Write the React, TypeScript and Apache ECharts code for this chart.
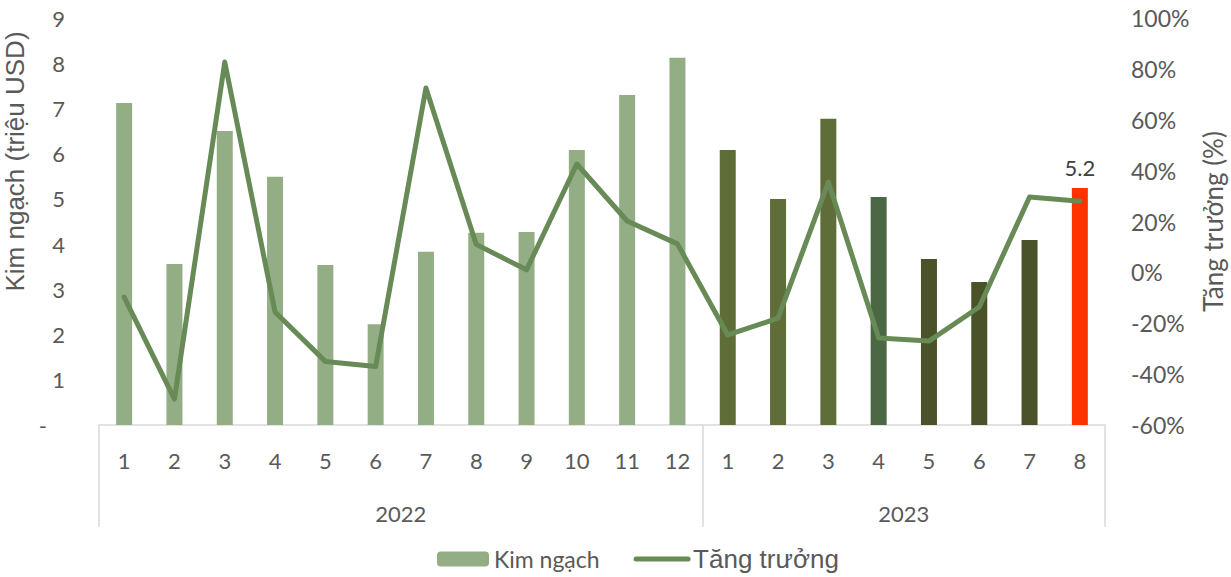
import React, { useEffect, useRef } from "react";
import * as echarts from "echarts";

const months = ["1","2","3","4","5","6","7","8","9","10","11","12","1","2","3","4","5","6","7","8"];
const years = ["2022","2022","2022","2022","2022","2022","2022","2022","2022","2022","2022","2022","2023","2023","2023","2023","2023","2023","2023","2023"];
const exportValues = [7.12, 3.56, 6.5, 5.49, 3.54, 2.23, 3.83, 4.25, 4.27, 6.08, 7.3, 8.12, 6.08, 5.0, 6.77, 5.04, 3.67, 3.16, 4.09, 5.24];
const growthValues = [-9.7, -49.8, 82.7, -15.6, -35, -37, 72.5, 11, 1, 42.6, 20.2, 11.2, -24.6, -18, 35.5, -25.8, -27, -13.6, 29.6, 28];
const barColors = [
  "#93AE84","#93AE84","#93AE84","#93AE84","#93AE84","#93AE84","#93AE84","#93AE84","#93AE84","#93AE84","#93AE84","#93AE84",
  "#5F6E38","#5F6E38","#5F6E38","#4B6744","#4A5229","#4A5229","#4A5229","#FF3300",
];
const leftTicks = { min: 0, max: 9, interval: 1 };
const rightTicks = { min: -60, max: 100, interval: 20 };

const tickFont = "Lato, 'Open Sans', sans-serif";
const titleFont = "'Liberation Sans', Arial, sans-serif";
const grey = "#595959";

export default function App() {
  const ref = useRef<HTMLDivElement>(null);
  useEffect(() => {
    if (!ref.current) return;
    const chart = echarts.init(ref.current, null, { renderer: "svg" });
    const lastIdx = exportValues.length - 1;
    chart.setOption({
      animation: false,
      backgroundColor: "#ffffff",
      grid: { left: 99, right: 126, top: 18, bottom: 152, containLabel: false, outerBoundsMode: "none" },
      legend: {
        top: 541,
        left: 432,
        itemGap: 34,
        itemWidth: 52,
        itemHeight: 15,
        textStyle: { color: grey, fontFamily: tickFont, fontSize: 23 },
        data: [
          { name: "Kim ngạch", itemStyle: { color: "#93AE84" } },
          {
            name: "Tăng trưởng",
            itemStyle: { opacity: 0 },
            lineStyle: { width: 5, color: "#688A57", cap: "round" },
            textStyle: { fontSize: 26, fontFamily: titleFont, color: grey },
          },
        ],
      },
      xAxis: [
        {
          type: "category",
          data: months,
          position: "bottom",
          axisLine: { show: true, onZero: false, lineStyle: { color: "#D9D9D9", width: 1.5 } },
          axisTick: { show: false },
          axisLabel: { color: grey, fontFamily: tickFont, fontSize: 22, margin: 24, interval: 0 },
        },
        {
          type: "category",
          data: years,
          position: "bottom",
          axisLine: { show: false, onZero: false },
          axisTick: {
            show: true,
            alignWithLabel: false,
            length: 102,
            interval: (i: number) => i === 0 || i === 12,
            lineStyle: { color: "#D9D9D9", width: 1.5 },
          },
          axisLabel: {
            interval: (i: number) => i === 5 || i === 15,
            margin: 77,
            formatter: (v: string) => `{y|${v}}`,
            rich: { y: { color: grey, fontFamily: tickFont, fontSize: 22, padding: [0, 0, 0, 50] } },
          },
        },
      ],
      yAxis: [
        {
          type: "value",
          min: leftTicks.min,
          max: leftTicks.max,
          interval: leftTicks.interval,
          name: "Kim ngạch (triệu USD)",
          nameLocation: "middle",
          nameGap: 62,
          nameRotate: 90,
          nameTextStyle: { color: grey, fontFamily: titleFont, fontSize: 26, padding: [0, 0, 0, 120] },
          axisLine: { show: false },
          axisTick: { show: false },
          splitLine: { show: false },
          axisLabel: {
            color: grey,
            fontFamily: tickFont,
            fontSize: 22,
            margin: 34,
            formatter: (v: number) => (v === 0 ? "{d|-}" : String(v)),
            rich: { d: { color: grey, fontFamily: tickFont, fontSize: 22, padding: [0, 18, 0, 0] } },
          },
        },
        {
          type: "value",
          min: rightTicks.min,
          max: rightTicks.max,
          interval: rightTicks.interval,
          position: "right",
          name: "Tăng trưởng (%)",
          nameLocation: "middle",
          nameGap: 92,
          nameRotate: 90,
          nameTextStyle: { color: grey, fontFamily: tickFont, fontSize: 26 },
          axisLine: { show: false },
          axisTick: { show: false },
          splitLine: { show: false },
          axisLabel: {
            color: grey,
            fontFamily: tickFont,
            fontSize: 23,
            margin: 26,
            formatter: (v: number) => `${v}%`,
          },
        },
      ],
      series: [
        {
          name: "Kim ngạch",
          type: "bar",
          xAxisIndex: 0,
          yAxisIndex: 0,
          barWidth: 16,
          itemStyle: { color: "#93AE84" },
          data: exportValues.map((v, i) => ({
            value: v,
            itemStyle: { color: barColors[i] },
            label:
              i === lastIdx
                ? {
                    show: true,
                    position: "top",
                    distance: 10,
                    color: "#404040",
                    fontFamily: tickFont,
                    fontSize: 22,
                    formatter: (p: any) => Number(p.value).toFixed(1),
                  }
                : { show: false },
          })),
        },
        {
          name: "Tăng trưởng",
          type: "line",
          xAxisIndex: 0,
          yAxisIndex: 1,
          symbol: "none",
          lineStyle: { color: "#688A57", width: 5, cap: "round", join: "round" },
          itemStyle: { color: "#688A57" },
          data: growthValues,
          z: 3,
        },
      ],
    });
    return () => chart.dispose();
  }, []);
  return (
    <div
      ref={ref}
      style={{ position: "fixed", left: 0, top: 0, width: 1231, height: 577, background: "#fff" }}
    />
  );
}
